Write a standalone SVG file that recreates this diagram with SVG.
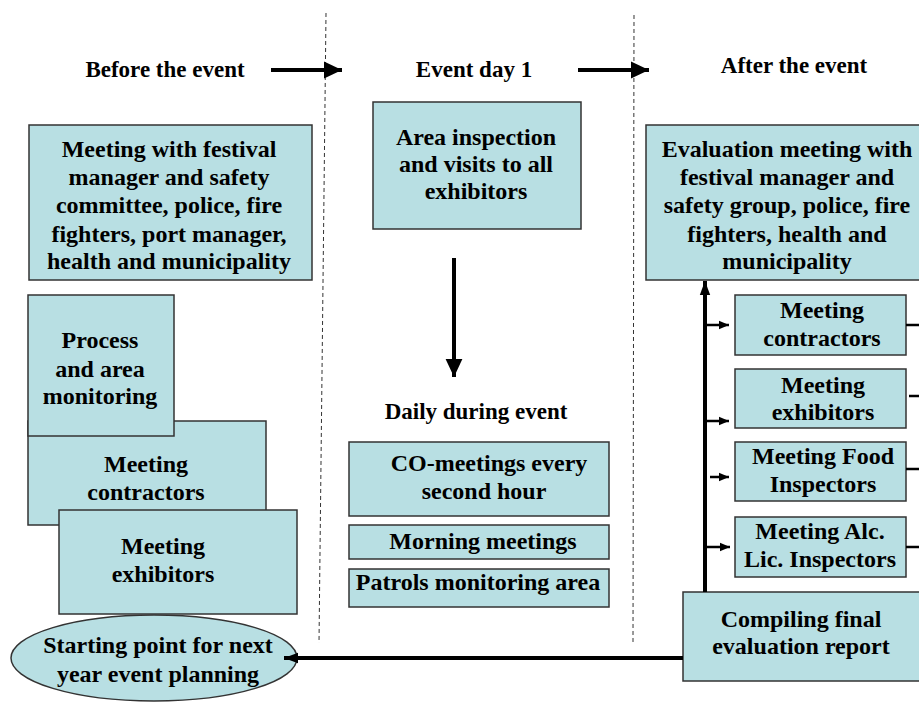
<svg xmlns="http://www.w3.org/2000/svg" width="919" height="702" viewBox="0 0 919 702">
<defs>
<style>
.box{fill:#B8DFE3;stroke:#333;stroke-width:1.5}
.t{font-family:'Liberation Serif',serif;font-weight:bold;font-size:24px;fill:#000;text-anchor:middle}
.h{font-family:'Liberation Serif',serif;font-weight:bold;font-size:23px;fill:#000;text-anchor:middle}
.dash{stroke:#333;stroke-width:1;stroke-dasharray:4,3;fill:none}
.thick{stroke:#000;stroke-width:4;fill:none}
.thin{stroke:#000;stroke-width:2.5;fill:none}
</style>
<marker id="big" markerWidth="5" markerHeight="5" refX="4.5" refY="2.5" orient="auto" markerUnits="strokeWidth">
<path d="M0,0.4 L4.5,2.5 L0,4.6 Z" fill="#000"/>
</marker>
<marker id="mid" markerWidth="5" markerHeight="5" refX="3.5" refY="2.5" orient="auto" markerUnits="strokeWidth">
<path d="M0,1.2 L3.5,2.5 L0,3.8 Z" fill="#000"/>
</marker>
<marker id="small" markerWidth="5" markerHeight="5" refX="4" refY="2.5" orient="auto" markerUnits="strokeWidth">
<path d="M0,0.8 L4,2.5 L0,4.2 Z" fill="#000"/>
</marker>
</defs>
<g id="headers">
<text class="h" x="165" y="77">Before the event</text>
<text class="h" x="474" y="77">Event day 1</text>
<text class="h" x="794" y="73">After the event</text>
<text class="h" x="476" y="419">Daily during event</text>
</g>
<g id="dividers">
<line class="dash" x1="326" y1="13" x2="319" y2="643"/>
<line class="dash" x1="634" y1="15" x2="633" y2="643"/>
</g>
<g id="n-meeting-festival">
<rect class="box" x="29" y="125" width="283" height="155"/>
<text class="t" x="169" y="157">Meeting with festival</text>
<text class="t" x="169" y="185">manager and safety</text>
<text class="t" x="169" y="213">committee, police, fire</text>
<text class="t" x="169" y="242">fighters, port manager,</text>
<text class="t" x="169" y="269">health and municipality</text>
</g>
<g id="n-left-contractors">
<rect class="box" x="28" y="421" width="238" height="104"/>
<text class="t" x="146" y="472">Meeting</text>
<text class="t" x="146" y="500">contractors</text>
</g>
<g id="n-process">
<rect class="box" x="28" y="295" width="146" height="141"/>
<text class="t" x="100" y="348">Process</text>
<text class="t" x="100" y="377">and area</text>
<text class="t" x="100" y="404">monitoring</text>
</g>
<g id="n-left-exhibitors">
<rect class="box" x="59" y="510" width="238" height="104"/>
<text class="t" x="163" y="554">Meeting</text>
<text class="t" x="163" y="582">exhibitors</text>
</g>
<g id="n-starting-point">
<ellipse class="box" cx="154" cy="658" rx="143" ry="43"/>
<text class="t" x="158" y="653">Starting point for next</text>
<text class="t" x="158" y="682">year event planning</text>
</g>
<g id="n-area-inspection">
<rect class="box" x="373" y="102" width="208" height="127"/>
<text class="t" x="476" y="145">Area inspection</text>
<text class="t" x="476" y="172">and visits to all</text>
<text class="t" x="476" y="199">exhibitors</text>
</g>
<g id="n-co-meetings">
<rect class="box" x="349" y="442" width="260" height="74"/>
<text class="t" x="489" y="471">CO-meetings every</text>
<text class="t" x="484" y="499">second hour</text>
</g>
<g id="n-morning">
<rect class="box" x="349" y="525" width="260" height="34"/>
<text class="t" x="483" y="549">Morning meetings</text>
</g>
<g id="n-patrols">
<rect class="box" x="349" y="569" width="260" height="38"/>
<text class="t" x="478" y="590">Patrols monitoring area</text>
</g>
<g id="n-evaluation">
<rect class="box" x="646" y="125" width="282" height="155"/>
<text class="t" x="787" y="157">Evaluation meeting with</text>
<text class="t" x="787" y="185">festival manager and</text>
<text class="t" x="787" y="213">safety group, police, fire</text>
<text class="t" x="787" y="242">fighters, health and</text>
<text class="t" x="787" y="269">municipality</text>
</g>
<g id="n-right-contractors">
<rect class="box" x="735" y="295" width="171" height="60"/>
<text class="t" x="822" y="318">Meeting</text>
<text class="t" x="822" y="346">contractors</text>
</g>
<g id="n-right-exhibitors">
<rect class="box" x="735" y="369" width="171" height="59"/>
<text class="t" x="823" y="393">Meeting</text>
<text class="t" x="823" y="420">exhibitors</text>
</g>
<g id="n-food">
<rect class="box" x="735" y="442" width="171" height="59"/>
<text class="t" x="823" y="464">Meeting Food</text>
<text class="t" x="823" y="492">Inspectors</text>
</g>
<g id="n-alc">
<rect class="box" x="735" y="517" width="171" height="60"/>
<text class="t" x="820" y="539">Meeting Alc.</text>
<text class="t" x="820" y="567">Lic. Inspectors</text>
</g>
<g id="n-compiling">
<rect class="box" x="683" y="592" width="240" height="89"/>
<text class="t" x="801" y="627">Compiling final</text>
<text class="t" x="801" y="654">evaluation report</text>
</g>
<g id="connectors">
<line class="thick" x1="271" y1="70" x2="342" y2="70" marker-end="url(#big)"/>
<line class="thick" x1="578" y1="70" x2="649" y2="70" marker-end="url(#big)"/>
<line class="thick" x1="454" y1="258" x2="454" y2="377" marker-end="url(#big)"/>
<line class="thick" x1="705" y1="592" x2="705" y2="281" marker-end="url(#mid)"/>
<line class="thick" x1="683" y1="658" x2="284" y2="658" marker-end="url(#mid)"/>
<line class="thin" x1="705" y1="325" x2="729" y2="325" marker-end="url(#small)"/>
<line class="thin" x1="705" y1="421" x2="729" y2="421" marker-end="url(#small)"/>
<line class="thin" x1="710" y1="477" x2="729" y2="477" marker-end="url(#small)"/>
<line class="thin" x1="705" y1="547" x2="730" y2="547" marker-end="url(#small)"/>
<line class="thin" x1="906" y1="325" x2="919" y2="325"/>
<line class="thin" x1="909" y1="396" x2="919" y2="396"/>
<line class="thin" x1="906" y1="469" x2="919" y2="469"/>
<line class="thin" x1="906" y1="547" x2="919" y2="547"/>
</g>
</svg>
